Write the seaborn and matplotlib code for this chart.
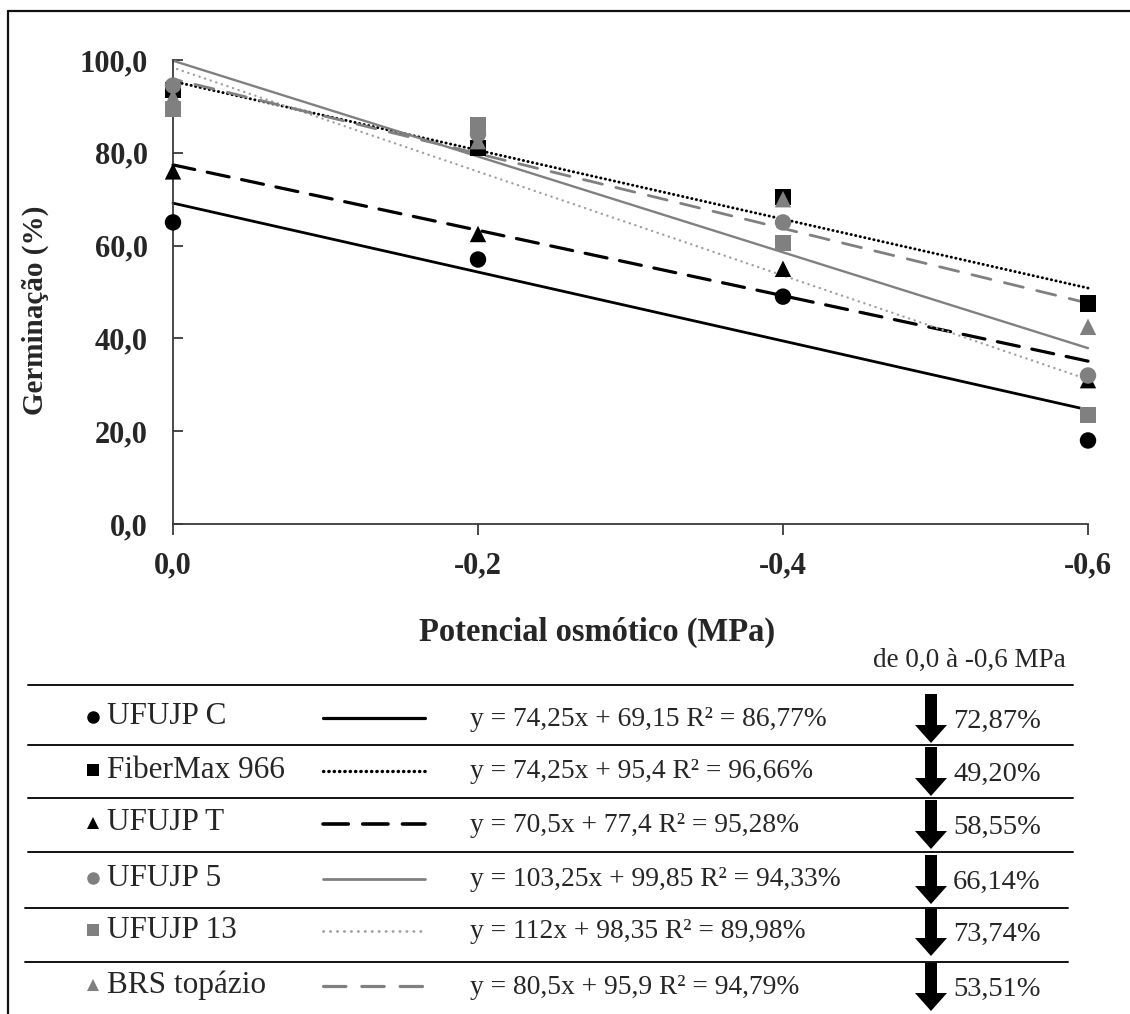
import matplotlib
matplotlib.use("Agg")
import matplotlib.pyplot as plt
import seaborn as sns
import numpy as np
import pandas as pd
from matplotlib.ticker import FuncFormatter, FixedLocator

sns.set_theme(style="white")
plt.rcParams['font.family'] = ['Liberation Serif', 'DejaVu Serif']

# ---- data ----
potencial = [0.0, -0.2, -0.4, -0.6]
cultivares = ["UFUJP C", "FiberMax 966", "UFUJP T", "UFUJP 5", "UFUJP 13", "BRS topázio"]
germ_ufujp_c = [65.0, 57.0, 49.0, 18.0]
germ_fibermax = [93.5, 81.0, 70.5, 47.5]
germ_ufujp_t = [76.0, 62.5, 55.0, 31.0]
germ_ufujp_5 = [94.5, 84.0, 65.0, 32.0]
germ_ufujp_13 = [89.5, 86.0, 60.5, 23.5]
germ_brs = [92.0, 82.5, 70.0, 42.5]
slopes = [74.25, 74.25, 70.5, 103.25, 112.0, 80.5]
intercepts = [69.15, 95.4, 77.4, 99.85, 98.35, 95.9]
equacoes = ["y = 74,25x + 69,15 R² = 86,77%",
            "y = 74,25x + 95,4 R² = 96,66%",
            "y = 70,5x + 77,4 R² = 95,28%",
            "y = 103,25x + 99,85 R² = 94,33%",
            "y = 112x + 98,35 R² = 89,98%",
            "y = 80,5x + 95,9 R² = 94,79%"]
reducao = ["72,87%", "49,20%", "58,55%", "66,14%", "73,74%", "53,51%"]
y_ticks = [0, 20, 40, 60, 80, 100]
x_ticks = [0.0, -0.2, -0.4, -0.6]

series = [germ_ufujp_c, germ_fibermax, germ_ufujp_t, germ_ufujp_5, germ_ufujp_13, germ_brs]

# ---- styles ----
BLACK = "#000000"
GRAY = "#808080"
LGRAY = "#a0a0a0"
marker_colors = [BLACK, BLACK, BLACK, GRAY, GRAY, GRAY]
marker_shapes = ["o", "s", "^", "o", "s", "^"]
line_colors = [BLACK, BLACK, BLACK, GRAY, LGRAY, GRAY]
line_widths = [2.0, 2.1, 2.3, 1.7, 1.7, 2.0]
line_styles = ["-", (0, (0.1, 1.5)), (0, (7, 4)), "-", (0, (0.1, 2.4)), (0, (7, 5))]

W, H = 1130, 1014
fig = plt.figure(figsize=(W / 100, H / 100), dpi=100)

# background pixel axes for frame and table
bg = fig.add_axes([0, 0, 1, 1], zorder=0)
bg.set_xlim(0, W)
bg.set_ylim(H, 0)
bg.axis("off")

ax = fig.add_axes([173 / W, 1 - 524 / H, (1088 - 173) / W, (524 - 60) / H], zorder=1)
ax.patch.set_alpha(0)

df = pd.DataFrame({
    "potencial": np.tile(potencial, len(cultivares)),
    "germinacao": np.concatenate(series),
    "cultivar": np.repeat(cultivares, len(potencial)),
})

# regression lines
xfit = np.array([0.0, -0.6])
for i, c in enumerate(cultivares):
    yfit = slopes[i] * xfit + intercepts[i]
    sns.lineplot(x=xfit, y=yfit, ax=ax, color=line_colors[i], lw=line_widths[i],
                 linestyle=line_styles[i], dash_capstyle="round", zorder=2,
                 clip_on=False)

sns.scatterplot(data=df, x="potencial", y="germinacao", hue="cultivar", style="cultivar",
                hue_order=cultivares, style_order=cultivares,
                palette=dict(zip(cultivares, marker_colors)),
                markers=dict(zip(cultivares, marker_shapes)),
                s=140, linewidth=0, legend=False, ax=ax, zorder=3, clip_on=False)

ax.set_xlim(0, -0.6)
ax.set_ylim(0, 100)
ax.xaxis.set_major_locator(FixedLocator(x_ticks))
ax.yaxis.set_major_locator(FixedLocator(y_ticks))
ax.xaxis.set_major_formatter(FuncFormatter(lambda v, p: f"{v:.1f}".replace(".", ",").replace("-0,0", "0,0")))
ax.yaxis.set_major_formatter(FuncFormatter(lambda v, p: f"{v:.1f}".replace(".", ",")))
for s in ["top", "right"]:
    ax.spines[s].set_visible(False)
for s in ["left", "bottom"]:
    ax.spines[s].set_color("#3a3a3a")
    ax.spines[s].set_linewidth(1.3)
ax.tick_params(axis="y", direction="in", length=7, width=1.3, color="#3a3a3a", pad=18,
               left=True, labelsize=22)
ax.tick_params(axis="x", direction="out", length=8, width=1.3, color="#3a3a3a", pad=12,
               bottom=True, labelsize=22)
for lab in ax.get_xticklabels() + ax.get_yticklabels():
    lab.set_fontweight("bold")
ax.set_xlabel("")
ax.set_ylabel("")
ax.grid(False)

fig.text(597 / W, 1 - 632 / H, "Potencial osmótico (MPa)", ha="center", va="center",
         fontsize=23.5, fontweight="bold")
fig.text(35 / W, 1 - 310 / H, "Germinação (%)", ha="center", va="center",
         fontsize=21, fontweight="bold", rotation=90)

# frame
bg.plot([8, W], [11, 11], color="#111111", lw=1.6, clip_on=False)
bg.plot([8, 8], [11, H], color="#111111", lw=1.6, clip_on=False)

# table
bg.text(873, 660, "de 0,0 à -0,6 MPa", ha="left", va="center", fontsize=19.5)
rule_y = [685, 745, 798, 852, 908, 962]
rule_x0 = [28, 28, 28, 28, 25, 25]
rule_x1 = [1073, 1073, 1073, 1073, 1068, 1068]
row_y = [717, 770, 823, 878, 930, 985]
for i, c in enumerate(cultivares):
    bg.plot([rule_x0[i], rule_x1[i]], [rule_y[i], rule_y[i]], color="#111111", lw=1.4)
    ry = row_y[i]
    bg.plot([93], [ry], marker=marker_shapes[i], color=marker_colors[i], ms=9, mew=0)
    bg.text(107, ry, c, ha="left", va="center", fontsize=22.5)
    bg.plot([323, 425], [ry + 1, ry + 1], color=line_colors[i], lw=line_widths[i] + 0.3,
            linestyle=line_styles[i], dash_capstyle="round")
    bg.text(470, ry + 2, equacoes[i], ha="left", va="center", fontsize=19.8)
    bg.arrow(931, ry - 23, 0, 31, width=12, head_width=32, head_length=18,
             length_includes_head=False, color="black", lw=0)
    bg.text(953, ry + 4, reducao[i], ha="left", va="center", fontsize=20.5)

fig.savefig("out.png", dpi=100)
